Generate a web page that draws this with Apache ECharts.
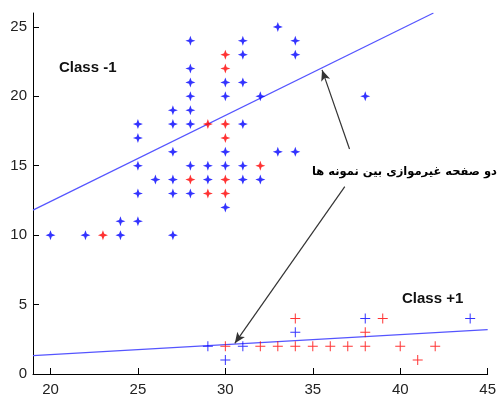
<!DOCTYPE html>
<html>
<head>
<meta charset="utf-8">
<script src="https://cdn.jsdelivr.net/npm/echarts@6/dist/echarts.min.js"></script>
<style>html,body{margin:0;padding:0;background:#fff}#c{width:499px;height:398px}</style>
</head>
<body>
<div id="c"></div>
<script>
// Class -1 samples (bold star markers)
var classNegBlue = [[20,10],[22,10],[24,10],[24,11],[25,11],[25,13],[25,15],[25,17],[25,18],[26,14],[27,10],[27,13],[27,14],[27,16],[27,18],[27,19],[28,13],[28,15],[28,18],[28,19],[28,20],[28,21],[28,22],[28,24],[29,14],[29,15],[30,12],[30,15],[30,16],[30,20],[30,21],[31,14],[31,15],[31,18],[31,21],[31,23],[31,24],[32,14],[32,20],[33,16],[33,25],[34,16],[34,23],[34,24],[38,20]];
var classNegRed = [[23,10],[28,14],[29,13],[29,18],[30,13],[30,14],[30,17],[30,18],[30,22],[30,23],[32,15]];
// Class +1 samples (thin plus markers)
var classPosBlue = [[29,2],[30,1],[31,2],[34,3],[38,4],[44,4]];
var classPosRed = [[30,2],[32,2],[33,2],[34,2],[34,4],[35,2],[36,2],[37,2],[38,2],[38,3],[39,4],[40,2],[41,1],[42,2]];
// Separating planes
var upperPlane = [[19,11.8],[41.9,26]];
var lowerPlane = [[19,1.33],[45,3.2]];
// Arrows (data coordinates): tail -> head
var arrowUpper = [[37.1,16.2],[35.53,21.9]];
var arrowLower = [[36.83,13.5],[30.54,2.21]];
var xTicks = [20,25,30,35,40,45];
var yTicks = [0,5,10,15,20,25];
var labelCaption = 'دو صفحه غیرموازی بین نمونه ها';
var labelNeg = 'Class -1';
var labelPos = 'Class +1';

var star = 'path://M5,0 L6.3,3.7 L10,5 L6.3,6.3 L5,10 L3.7,6.3 L0,5 L3.7,3.7 Z';
var plus = 'path://M4.5,0 L5.5,0 L5.5,4.5 L10,4.5 L10,5.5 L5.5,5.5 L5.5,10 L4.5,10 L4.5,5.5 L0,5.5 L0,4.5 L4.5,4.5 Z';

var chart = echarts.init(document.getElementById('c'));
var axisFont = {fontFamily:'Liberation Sans, Arial', fontSize:15, color:'#222'};
chart.setOption({
  animation:false,
  grid:{left:33,right:11,top:13,bottom:24},
  xAxis:{type:'value',min:19,max:45,
    axisLine:{show:true,lineStyle:{color:'#000',width:1}},
    axisTick:{show:true,inside:true,length:6,customValues:xTicks,lineStyle:{color:'#000'}},
    axisLabel:Object.assign({margin:8,customValues:xTicks},axisFont),
    splitLine:{show:false}},
  yAxis:{type:'value',min:0,max:26,
    axisLine:{show:true,lineStyle:{color:'#000',width:1}},
    axisTick:{show:true,inside:true,length:6,customValues:yTicks,lineStyle:{color:'#000'}},
    axisLabel:Object.assign({margin:6,customValues:yTicks},axisFont),
    splitLine:{show:false}},
  series:[
    {type:'line',data:upperPlane,showSymbol:false,lineStyle:{color:'#5555ff',width:1.2},z:1},
    {type:'line',data:lowerPlane,showSymbol:false,lineStyle:{color:'#5555ff',width:1.2},z:1},
    {type:'scatter',data:classNegBlue,symbol:star,symbolSize:10,itemStyle:{color:'#0000ff'},z:3},
    {type:'scatter',data:classNegRed,symbol:star,symbolSize:10,itemStyle:{color:'#ff0000'},z:3},
    {type:'scatter',data:classPosBlue,symbol:plus,symbolSize:10,itemStyle:{color:'#0000ff'},z:3},
    {type:'scatter',data:classPosRed,symbol:plus,symbolSize:10,itemStyle:{color:'#ff0000'},z:3},
    {type:'line',data:[],silent:true,
      markLine:{silent:true,symbol:['none','arrow'],symbolSize:[7,11],
        lineStyle:{color:'#333',width:1.2,type:'solid'},label:{show:false},
        data:[
          [{coord:arrowUpper[0]},{coord:arrowUpper[1]}],
          [{coord:arrowLower[0]},{coord:arrowLower[1]}]
        ]},z:4}
  ],
  graphic:[
    {type:'text',left:59,top:60,style:{text:labelNeg,font:'bold 15px Liberation Sans, Arial',fill:'#111'}},
    {type:'text',left:402,top:291,style:{text:labelPos,font:'bold 15px Liberation Sans, Arial',fill:'#111'}},
    {type:'text',x:497,y:172,style:{text:labelCaption,font:'bold 11.5px DejaVu Sans',fill:'#000',align:'right',verticalAlign:'middle'}}
  ]
});
</script>
</body>
</html>
